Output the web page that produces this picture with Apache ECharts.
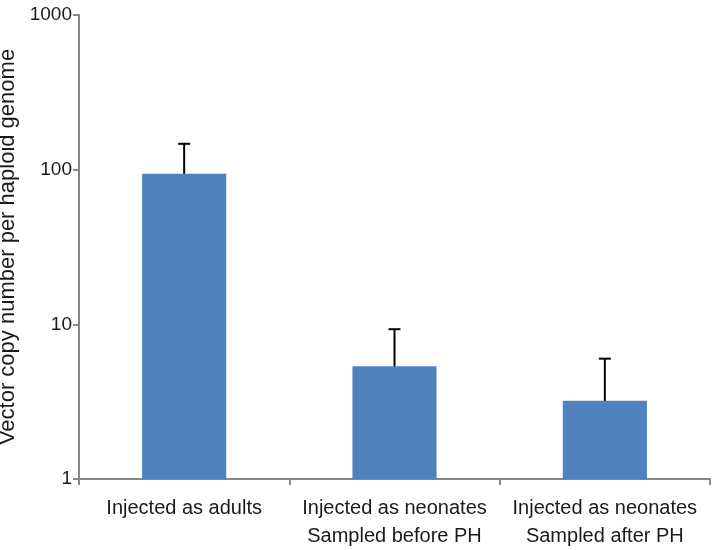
<!DOCTYPE html>
<html lang="en">
<head>
    <meta charset="UTF-8">
    <title>Vector copy number</title>
    <script src="https://cdn.jsdelivr.net/npm/echarts@6/dist/echarts.min.js"></script>
</head>
<body style="margin:0">
<div id="main" style="width: 714px;height: 550px;"></div>

<script type="text/javascript">
    // categories and values
    var categories = ['Injected as adults', 'Injected as neonates\nSampled before PH', 'Injected as neonates\nSampled after PH'];
    var means = [94, 5.35, 3.2];
    var errTops = [147, 9.3, 6.0];
    var yTicks = [1, 10, 100, 1000];

    var myChart = echarts.init(document.getElementById('main'));

    var errData = [];
    for (var i = 0; i < categories.length; i++) {
        errData.push([i, means[i], errTops[i]]);
    }

    var option = {
        animation: false,
        textStyle: {fontFamily: 'Liberation Sans, Arial, sans-serif'},
        grid: {left: 79, right: 4, top: 15, bottom: 71, outerBoundsMode: 'none', containLabel: false},
        xAxis: {
            type: 'category',
            data: categories,
            axisLine: {lineStyle: {color: '#888', width: 2}},
            axisTick: {show: true, length: 6, lineStyle: {color: '#888', width: 2}},
            axisLabel: {color: '#1a1a1a', fontSize: 20, margin: 15, lineHeight: 28, interval: 0}
        },
        yAxis: {
            type: 'log',
            logBase: 10,
            min: yTicks[0],
            max: yTicks[yTicks.length - 1],
            name: 'Vector copy number per haploid genome',
            nameLocation: 'middle',
            nameGap: 34,
            nameTextStyle: {color: '#1a1a1a', fontSize: 22},
            axisLine: {show: true, lineStyle: {color: '#888', width: 2}},
            axisTick: {show: true, length: 6, lineStyle: {color: '#888', width: 2}},
            axisLabel: {
                color: '#1a1a1a', fontSize: 19, margin: 7,
                formatter: function (v) { return String(v); }
            },
            splitLine: {show: false}
        },
        series: [
            {
                type: 'bar',
                data: means,
                barWidth: '40%',
                itemStyle: {color: '#4f81bd'}
            },
            {
                type: 'custom', //误差线，只画上半部分
                data: errData,
                encode: {x: 0, y: [1, 2]},
                z: 10,
                renderItem: function (params, api) {
                    var base = api.coord([api.value(0), api.value(1)]);
                    var top = api.coord([api.value(0), api.value(2)]);
                    var style = {stroke: '#000', lineWidth: 2};
                    return {
                        type: 'group',
                        children: [
                            {type: 'line', shape: {x1: base[0], y1: base[1], x2: top[0], y2: top[1]}, style: style},
                            {type: 'line', shape: {x1: top[0] - 6, y1: top[1], x2: top[0] + 6, y2: top[1]}, style: style}
                        ]
                    };
                }
            }
        ]
    };

    myChart.setOption(option);
</script>
</body>
</html>
